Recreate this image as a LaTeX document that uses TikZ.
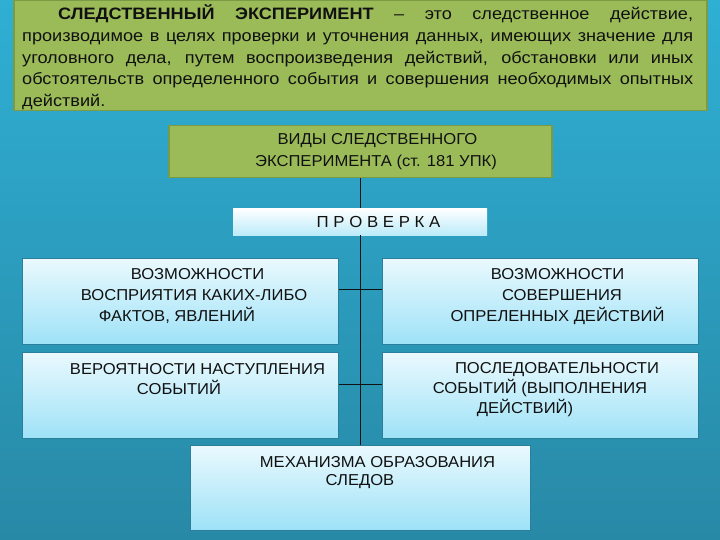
\documentclass[tikz,border=0pt]{standalone}
\usepackage{fontspec}
\setmainfont{Liberation Sans}
\newfontfamily\parafont[FakeStretch=1.1]{Liberation Sans}
\newfontfamily\boxfont[FakeStretch=1.05]{Liberation Sans}
\definecolor{bgtop}{HTML}{2FAFD4}
\definecolor{bgbot}{HTML}{2889A6}
\definecolor{greenfill}{HTML}{9BBB59}
\definecolor{greenedge}{HTML}{7A9A44}
\definecolor{boxtop}{HTML}{EAF9FE}
\definecolor{boxbot}{HTML}{9EE2F7}
\definecolor{boxedge}{HTML}{2A7F9A}
\definecolor{ink}{HTML}{111111}
\begin{document}
\begin{tikzpicture}[x=1pt,y=-1pt,
  greenbox/.style={draw=greenedge,line width=1.5pt,fill=greenfill,anchor=north west,inner sep=0pt},
  bluebox/.style={draw=boxedge,line width=0.8pt,top color=boxtop,bottom color=boxbot,anchor=north west,inner sep=0pt},
  provbox/.style={draw=none,top color=white,bottom color=boxbot!70,anchor=north west,inner sep=0pt},
  txt/.style={anchor=base,inner sep=0pt,text=ink,font=\boxfont\fontsize{15.8}{18}\selectfont},
  para/.style={anchor=base west,inner sep=0pt,text=ink,font=\parafont\fontsize{16.5}{20}\selectfont},
  conn/.style={draw=ink,line width=0.9pt}]
\useasboundingbox (0,0) rectangle (720,540);
\fill[top color=bgtop,bottom color=bgbot] (0,0) rectangle (720,540);

% top definition box
\node[greenbox,minimum width=693pt,minimum height=110pt] (def) at (13,0) {};
\node[para] (p1) at (22,20) {\makebox[671pt][s]{\hspace*{36pt}\textbf{СЛЕДСТВЕННЫЙ} \textbf{ЭКСПЕРИМЕНТ} – это следственное действие,}};
\node[para] (p2) at (22,42) {\makebox[671pt][s]{производимое в целях проверки и уточнения данных, имеющих значение для}};
\node[para] (p3) at (22,63.5) {\makebox[671pt][s]{уголовного дела, путем воспроизведения действий, обстановки или иных}};
\node[para] (p4) at (22,85) {\makebox[671pt][s]{обстоятельств определенного события и совершения необходимых опытных}};
\node[para] (p5) at (22,106.5) {действий.};

% kinds box
\node[greenbox,minimum width=383pt,minimum height=52pt] (kinds) at (168,125) {};
\node[txt] (k1) at (377.5,145) {ВИДЫ СЛЕДСТВЕННОГО};
\node[txt] (k2) at (376,167) {ЭКСПЕРИМЕНТА (ст. 181 УПК)};

% check box
\node[provbox,minimum width=254pt,minimum height=27pt] (prov) at (233,208) {};
\node[txt,font=\boxfont\fontsize{16}{18}\selectfont] (provt) at (378.5,227) {П Р О В Е Р К А};

% trunk
\draw[conn] (kinds.south -| prov.north) -- (prov.north);
\coordinate (j1) at (360,289);
\coordinate (j2) at (360,384);

% four boxes
\node[bluebox,minimum width=316pt,minimum height=86pt] (l1) at (22,258) {};
\node[bluebox,minimum width=316pt,minimum height=86pt] (r1) at (382,258) {};
\node[bluebox,minimum width=316pt,minimum height=86pt] (l2) at (22,352) {};
\node[bluebox,minimum width=316pt,minimum height=86pt] (r2) at (382,352) {};
\node[bluebox,minimum width=340pt,minimum height=85pt] (mech) at (190,445) {};

\draw[conn] (prov.south) -- (prov.south |- mech.north);
\draw[conn] (l1.east |- j1) -- (r1.west |- j1);
\draw[conn] (l2.east |- j2) -- (r2.west |- j2);

\node[txt] (l1a) at (197.5,279) {ВОЗМОЖНОСТИ};
\node[txt] (l1b) at (194,300) {ВОСПРИЯТИЯ КАКИХ-ЛИБО};
\node[txt] (l1c) at (177,321) {ФАКТОВ, ЯВЛЕНИЙ};

\node[txt] (r1a) at (557.5,279) {ВОЗМОЖНОСТИ};
\node[txt] (r1b) at (562,300) {СОВЕРШЕНИЯ};
\node[txt] (r1c) at (557.5,321) {ОПРЕЛЕННЫХ ДЕЙСТВИЙ};

\node[txt] (l2a) at (197.5,374) {ВЕРОЯТНОСТИ НАСТУПЛЕНИЯ};
\node[txt] (l2b) at (179,394) {СОБЫТИЙ};

\node[txt] (r2a) at (557,373) {ПОСЛЕДОВАТЕЛЬНОСТИ};
\node[txt] (r2b) at (540,393) {СОБЫТИЙ (ВЫПОЛНЕНИЯ};
\node[txt] (r2c) at (525,413) {ДЕЙСТВИЙ)};

\node[txt] (m1) at (377.5,467) {МЕХАНИЗМА ОБРАЗОВАНИЯ};
\node[txt] (m2) at (360,485) {СЛЕДОВ};
\end{tikzpicture}
\end{document}
